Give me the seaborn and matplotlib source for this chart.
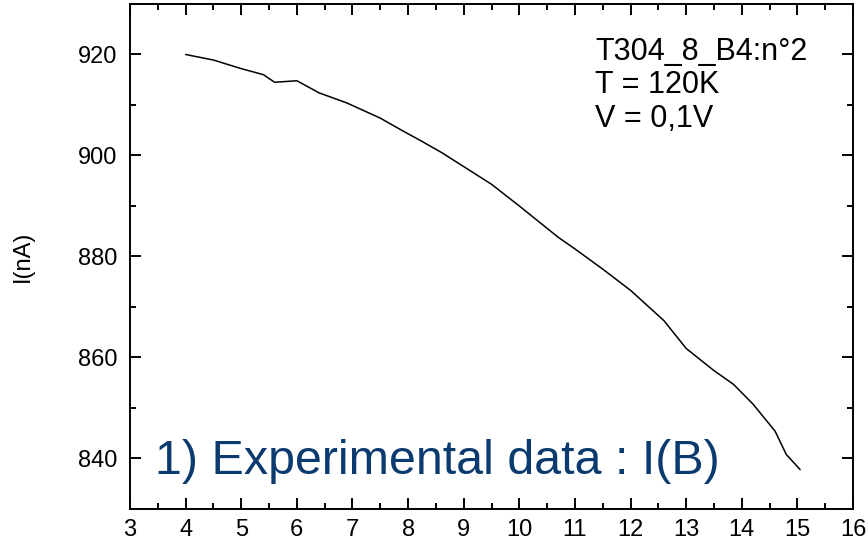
import matplotlib
matplotlib.use('Agg')
import matplotlib.pyplot as plt
import numpy as np
import pandas as pd
import seaborn as sns
from matplotlib.ticker import MultipleLocator

# field B (x) and current I in nA (y)
field = [4.0, 4.5, 5.0, 5.4, 5.6, 6.0, 6.4, 6.9, 7.5, 7.9, 8.2, 8.6, 9.0, 9.5,
         10.0, 10.7, 11.0, 11.5, 12.0, 12.6, 13.0, 13.5, 13.85, 14.2, 14.6,
         14.8, 15.05]
current = [920.0, 918.9, 917.2, 916.0, 914.5, 914.8, 912.4, 910.4, 907.4, 904.9,
           903.1, 900.6, 897.8, 894.3, 890.0, 883.8, 881.5, 877.5, 873.3, 867.3,
           861.8, 857.4, 854.7, 850.8, 845.4, 840.8, 837.8]
info_lines = ['T304_8_B4:n°2', 'T = 120K', 'V = 0,1V']
big_label = '1) Experimental data : I(B)'

sns.set_style('ticks', {'axes.edgecolor': 'black', 'text.color': 'black',
                        'xtick.color': 'black', 'ytick.color': 'black',
                        'axes.labelcolor': 'black'})
plt.rcParams['font.family'] = ['Liberation Sans', 'DejaVu Sans']

m_df = pd.DataFrame({'B': field, 'I': current})

fig = plt.figure(figsize=(8.68, 5.47), dpi=100)
ax = fig.add_axes([0.1498, 0.0695, 0.8329, 0.9232])
sns.lineplot(data=m_df, x='B', y='I', color='black', linewidth=1.1,
             estimator=None, sort=False, ax=ax)

ax.set_xlim(3, 16)
ax.set_ylim(830, 930)
ax.xaxis.set_major_locator(MultipleLocator(1))
ax.xaxis.set_minor_locator(MultipleLocator(0.5))
ax.yaxis.set_major_locator(MultipleLocator(20))
ax.yaxis.set_minor_locator(MultipleLocator(10))
ax.tick_params(which='both', direction='in', top=True, right=True, width=1.4,
               color='black', labelcolor='black')
ax.tick_params(which='major', length=7.7, labelsize=17)
ax.tick_params(axis='y', which='major', pad=9)
ax.tick_params(axis='x', which='major', pad=7)
ax.tick_params(which='minor', length=4.3)
for s in ax.spines.values():
    s.set_linewidth(1.4)
    s.set_color('black')

ax.set_xlabel('')
ax.set_ylabel('I(nA)', fontsize=17, labelpad=32, color='black')

ax.text(0.643, 0.935, '\n'.join(info_lines), transform=ax.transAxes,
        fontsize=22, va='top', ha='left', linespacing=1.16, color='black')
ax.text(0.034, 0.049, big_label, transform=ax.transAxes,
        fontsize=34.8, color='#0a3a6e', va='bottom', ha='left')

plt.savefig('out.png', dpi=100)
